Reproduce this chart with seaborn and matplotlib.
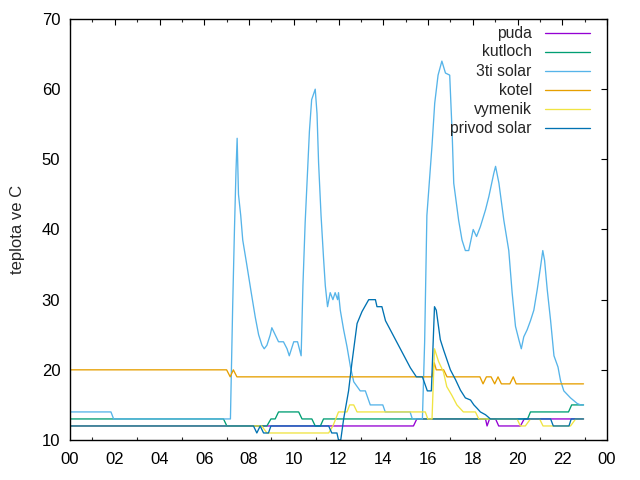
import matplotlib
matplotlib.use("Agg")
import matplotlib.pyplot as plt
import seaborn as sns
import pandas as pd
import numpy as np
from matplotlib.ticker import MultipleLocator

# ---- data (hours of day, temperature in deg C) ----
puda_t = [0, 15.35, 15.5, 18.57, 18.64, 18.75, 19.02, 19.16, 20.13, 20.3, 22.95]
puda_v = [12, 12, 13, 13, 12, 13, 13, 12, 12, 13, 13]

kutloch_t = [0, 6.86, 7.01, 8.8, 8.98, 9.17, 9.32, 10.22, 10.37, 10.81, 10.96, 11.19, 11.33,
             20.45, 20.58, 22.28, 22.42, 22.95]
kutloch_v = [13, 13, 12, 12, 13, 13, 14, 14, 13, 13, 12, 12, 13,
             13, 14, 14, 15, 15]

solar3_t = [0, 1.83, 1.95, 7.17, 7.27, 7.35, 7.42, 7.47, 7.53, 7.63, 7.72, 7.9, 8.1, 8.28,
            8.43, 8.58, 8.68, 8.8, 8.95, 9.02, 9.17, 9.32, 9.54, 9.7, 9.8, 10.0, 10.17,
            10.33, 10.41, 10.51, 10.62, 10.7, 10.8, 10.96, 11.04, 11.11, 11.22, 11.33,
            11.41, 11.51, 11.63, 11.75, 11.85, 11.96, 12.0, 12.08, 12.23, 12.38, 12.53,
            12.68, 12.97, 13.2, 13.42, 13.98, 14.09, 15.2, 15.3, 15.75, 15.85, 15.95,
            16.18, 16.3, 16.45, 16.62, 16.78, 16.97, 17.08, 17.15, 17.37, 17.52, 17.67,
            17.82, 18.02, 18.17, 18.34, 18.57, 18.72, 18.94, 19.02, 19.17, 19.39, 19.61,
            19.76, 19.91, 20.06, 20.17, 20.28, 20.43, 20.58, 20.73, 20.88, 21.03, 21.13,
            21.21, 21.33, 21.48, 21.63, 21.81, 21.92, 22.07, 22.37, 22.67, 22.82, 22.95]
solar3_v = [14, 14, 13, 13, 29, 40, 48.5, 53, 45, 42, 38.5, 35, 31, 27.5,
            25, 23.5, 23, 23.5, 25, 26, 25, 24, 24, 23, 22, 24, 24,
            22, 32, 41, 48.5, 54, 58.5, 60, 56.5, 49.5, 42, 36,
            32, 29, 31, 30, 31, 30, 31, 28.5, 25.7, 23.3, 20.5,
            18.3, 17, 17, 15, 15, 14, 14, 13, 13, 24, 42,
            52, 58, 62, 64, 62.3, 62, 53.7, 46.6, 41.3, 38.5, 37,
            37, 40, 39, 40.4, 42.8, 44.7, 48, 49, 46.6, 41.3, 37,
            31, 26.2, 24.3, 23, 24.7, 25.7, 27, 28.5, 31.4, 34.7, 37,
            35.6, 31.4, 27, 22, 20.4, 18.5, 17, 16, 15.2, 15, 15]

kotel_t = [0, 7.0, 7.16, 7.3, 7.46, 16.18, 16.28, 16.37, 16.7, 16.85, 18.32, 18.46, 18.61,
           18.82, 18.98, 19.13, 19.28, 19.66, 19.81, 19.94, 22.95]
kotel_v = [20, 20, 19, 20, 19, 19, 21, 20, 20, 19, 19, 18, 19,
           19, 18, 19, 18, 18, 19, 18, 18]

vymenik_t = [0, 8.57, 8.8, 11.56, 11.75, 12.0, 12.38, 12.5, 12.68, 12.83, 15.88, 15.99,
             16.18, 16.29, 16.47, 16.69, 16.84, 17.06, 17.29, 17.58, 18.12, 18.27, 19.98,
             20.13, 20.35, 20.58, 20.99, 21.14, 22.37, 22.6, 22.95]
vymenik_v = [12, 12, 11, 11, 12, 14, 14, 15, 15, 14, 14, 13,
             13, 23, 21.2, 19.7, 17.6, 16.4, 15, 14, 14, 13, 13,
             12, 12, 13, 13, 12, 12, 13, 13]

privod_t = [0, 8.2, 8.35, 8.5, 8.65, 8.87, 8.98, 11.56, 11.7, 11.93, 12.0, 12.1, 12.23,
            12.45, 12.6, 12.83, 13.05, 13.35, 13.65, 13.72, 13.94, 14.1, 14.63, 15.21,
            15.48, 15.75, 15.97, 16.15, 16.29, 16.37, 16.55, 16.7, 16.85, 17.0, 17.23,
            17.45, 17.67, 17.9, 18.05, 18.2, 18.34, 18.57, 18.79, 21.48, 21.6, 22.3,
            22.4, 22.95]
privod_v = [12, 12, 11, 12, 11, 11, 12, 12, 11, 11, 10, 10, 13,
            17, 21, 26.6, 28.3, 30, 30, 29, 29, 27, 23.8, 20.3,
            19, 19, 17, 17, 29, 28.5, 24.3, 22.8, 21.4, 20, 18.6,
            17.1, 16, 15.7, 15, 14.5, 14, 13.6, 13, 13, 12, 12,
            13, 13]

names = ["puda", "kutloch", "3ti solar", "kotel", "vymenik", "privod solar"]
colors = ["#9400d3", "#009e73", "#56b4e9", "#e69f00", "#f0e442", "#0072b2"]
series_t = [puda_t, kutloch_t, solar3_t, kotel_t, vymenik_t, privod_t]
series_v = [puda_v, kutloch_v, solar3_v, kotel_v, vymenik_v, privod_v]

xtick_labels = ["00", "02", "04", "06", "08", "10", "12", "14", "16", "18", "20", "22", "00"]

frames = []
for n, t, v in zip(names, series_t, series_v):
    frames.append(pd.DataFrame({"hour": t, "temp": v, "serie": n}))
df = pd.concat(frames, ignore_index=True)

sns.set_theme(style="white")
plt.rcParams["font.family"] = ["Liberation Sans", "DejaVu Sans"]
plt.rcParams["xtick.direction"] = "in"
plt.rcParams["ytick.direction"] = "in"

fig = plt.figure(figsize=(6.4, 4.8), dpi=100)
ax = fig.add_axes([70 / 640, 40 / 480, 537 / 640, 421 / 480])

for n, c in zip(names, colors):
    sns.lineplot(data=df[df["serie"] == n], x="hour", y="temp", color=c,
                 linewidth=0.95, ax=ax, sort=False, estimator=None, legend=False)

ax.set_xlim(0, 24)
ax.set_ylim(10, 70)
ax.set_xticks(np.arange(0, 25, 2))
ax.set_xticklabels(xtick_labels)
ax.xaxis.set_minor_locator(MultipleLocator(1))
ax.set_yticks(np.arange(10, 71, 10))
ax.tick_params(axis="both", which="major", direction="in", length=4.5, width=0.8,
               top=True, right=True, labelsize=12, colors="black")
ax.tick_params(axis="x", which="major", pad=9)
ax.tick_params(axis="y", which="major", pad=7)
ax.tick_params(axis="x", which="minor", direction="in", length=2.5, width=0.8,
               top=True, bottom=True)
ax.set_xlabel("")
ax.set_ylabel("teplota ve C", fontsize=12, labelpad=12)
for s in ax.spines.values():
    s.set_visible(True)
    s.set_color("black")
    s.set_linewidth(1.0)

# legend (gnuplot style: right-aligned text, sample to the right)
ly = [0.966, 0.922, 0.876, 0.831, 0.786, 0.740]
for n, c, y in zip(names, colors, ly):
    ax.text(0.860, y, n, ha="right", va="center", fontsize=11.3, transform=ax.transAxes)
    ax.plot([0.885, 0.968], [y, y], color=c, linewidth=0.95, transform=ax.transAxes)

fig.savefig("out.png", dpi=100)
